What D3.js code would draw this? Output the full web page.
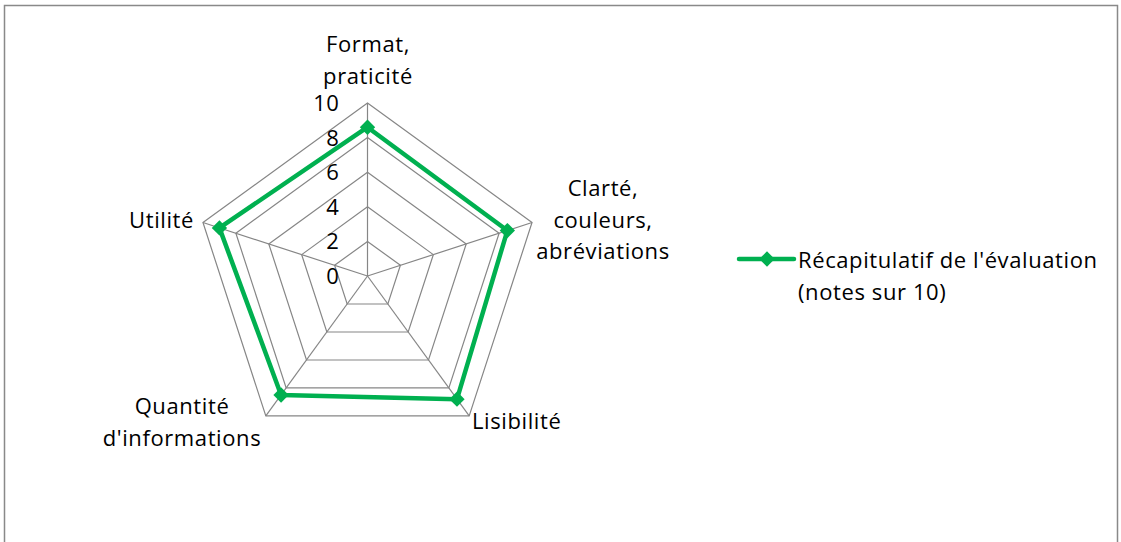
<!DOCTYPE html>
<html><head><meta charset="utf-8">
<script src="https://cdn.jsdelivr.net/npm/d3@7"></script>
<style>
html,body{margin:0;padding:0;background:#fff;}
svg text{font-family:"Open Sans",Lato,sans-serif;fill:#000;font-variant-ligatures:none;letter-spacing:0.6px;}
</style></head>
<body><svg id="c" width="1121" height="542"></svg>
<script>
const categories = ["Format, praticité", "Clarté, couleurs, abréviations", "Lisibilité", "Quantité d'informations", "Utilité"];
const labelLines = [["Format,", "praticité"], ["Clarté,", "couleurs,", "abréviations"], ["Lisibilité"], ["Quantité", "d'informations"], ["Utilité"]];
const values = [8.6, 8.5, 8.8, 8.5, 9.0];
const tickValues = [0, 2, 4, 6, 8, 10];
const seriesName = ["Récapitulatif de l'évaluation", "(notes sur 10)"];

const svg = d3.select("#c");
const W = 1121, H = 542;
const cx = 367.5, cy = 276, R = 173;
const green = "#00B050", grid = "#868686";
const fs = 22;

// border
svg.append("path").attr("d", `M4.5,${H+5} V5.5 H1117.5 V${H+5}`)
  .attr("fill", "none").attr("stroke", "#898989").attr("stroke-width", 1.5);

const r = d3.scaleLinear().domain([0, 10]).range([0, R]);
const ang = d3.scaleLinear().domain([0, categories.length]).range([0, 2 * Math.PI]);
const pt = (i, v) => [cx + r(v) * Math.sin(ang(i)), cy - r(v) * Math.cos(ang(i))];

const g = svg.append("g");
// grid polygons
tickValues.filter(t => t > 0).forEach(t => {
  g.append("path")
    .attr("d", d3.line()(categories.map((c, i) => pt(i, t))) + "Z")
    .attr("fill", "none").attr("stroke", grid).attr("stroke-width", 1.2);
});
// spokes
categories.forEach((c, i) => {
  const p = pt(i, 10);
  g.append("line").attr("x1", cx).attr("y1", cy).attr("x2", p[0]).attr("y2", p[1])
    .attr("stroke", grid).attr("stroke-width", 1.2);
});
// tick labels
tickValues.forEach(t => {
  g.append("text").attr("x", cx - 28).attr("y", cy - r(t)).attr("dy", "0.36em")
    .attr("text-anchor", "end").attr("font-size", fs).text(t);
});

// category labels
const labelPos = [
  {x: 368, y: 52, a: "middle"},
  {x: 603, y: 196, a: "middle"},
  {x: 472, y: 429, a: "start"},
  {x: 182, y: 414, a: "middle"},
  {x: 194, y: 228, a: "end"}
];
const lh = 31.5;
labelLines.forEach((lines, i) => {
  const lp = labelPos[i];
  const t = g.append("text").attr("text-anchor", lp.a).attr("font-size", fs);
  lines.forEach((l, k) => t.append("tspan").attr("x", lp.x).attr("y", lp.y + k * lh).text(l));
});

// series
const pts = values.map((v, i) => pt(i, v));
g.append("path").attr("d", d3.line()(pts) + "Z")
  .attr("fill", "none").attr("stroke", green).attr("stroke-width", 4.5).attr("stroke-linejoin", "round");
const diamond = d3.symbol().type(d3.symbolDiamond2).size(150);
g.selectAll(".m").data(pts).enter().append("path")
  .attr("transform", d => `translate(${d[0]},${d[1]})`)
  .attr("d", diamond).attr("fill", green);

// legend
const lg = svg.append("g");
lg.append("line").attr("x1", 739).attr("x2", 794).attr("y1", 259).attr("y2", 259)
  .attr("stroke", green).attr("stroke-width", 4.5).attr("stroke-linecap", "round");
lg.append("path").attr("transform", "translate(767,259)").attr("d", diamond).attr("fill", green);
const lt = lg.append("text").attr("font-size", fs);
seriesName.forEach((s, k) => lt.append("tspan").attr("x", 798).attr("y", 268 + k * 31.5).text(s));
</script></body></html>
